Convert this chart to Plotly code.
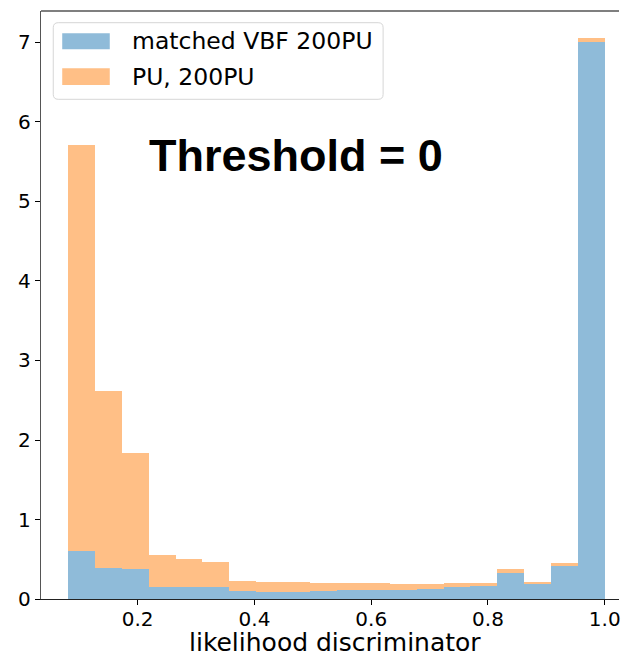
import plotly.graph_objects as go

# ---- data ----
bin_edges = [0.081, 0.127, 0.173, 0.219, 0.265, 0.311, 0.357, 0.403, 0.449, 0.495,
             0.541, 0.586, 0.632, 0.678, 0.724, 0.770, 0.816, 0.862, 0.908, 0.954, 1.000]
vbf_heights = [0.600, 0.386, 0.373, 0.147, 0.147, 0.155, 0.096, 0.092, 0.092, 0.105,
               0.117, 0.117, 0.117, 0.130, 0.151, 0.164, 0.323, 0.189, 0.419, 7.000]
pu_heights = [5.110, 2.234, 1.463, 0.406, 0.356, 0.310, 0.130, 0.126, 0.122, 0.096,
              0.084, 0.083, 0.072, 0.059, 0.050, 0.033, 0.058, 0.021, 0.030, 0.057]
series_names = ["matched VBF 200PU", "PU, 200PU"]
x_ticks = [0.2, 0.4, 0.6, 0.8, 1.0]
x_tick_labels = ["0.2", "0.4", "0.6", "0.8", "1.0"]
y_ticks = [0, 1, 2, 3, 4, 5, 6, 7]
y_tick_labels = ["0", "1", "2", "3", "4", "5", "6", "7"]
x_label = "likelihood discriminator"
annotation_text = "Threshold = 0"

BLUE = "#8fbbd9"
ORANGE = "#ffbf86"

centers = [(a + b) / 2 for a, b in zip(bin_edges[:-1], bin_edges[1:])]
widths = [b - a for a, b in zip(bin_edges[:-1], bin_edges[1:])]

W, H = 621, 656
L, R, T, B = 41, 0, 11, 57
PW = W - L - R
PH = H - T - B


def px(x):
    return (x - L) / PW


def py(y):
    return (H - B - y) / PH


fig = go.Figure()
fig.add_trace(go.Bar(x=centers, y=vbf_heights, width=widths, name=series_names[0],
                     marker=dict(color=BLUE, line=dict(width=0)), showlegend=False))
fig.add_trace(go.Bar(x=centers, y=pu_heights, width=widths, name=series_names[1],
                     marker=dict(color=ORANGE, line=dict(width=0)), showlegend=False))

tickfont = dict(family="DejaVu Sans", size=20, color="black")

fig.update_layout(
    width=W, height=H,
    margin=dict(l=L, r=R, t=T, b=B, pad=0),
    barmode="stack", bargap=0,
    paper_bgcolor="white", plot_bgcolor="white",
    xaxis=dict(range=[0.0344, 1.0244], tickvals=x_ticks, ticktext=x_tick_labels,
               ticks="outside", ticklen=5, tickwidth=1, tickcolor="black",
               showline=True, linecolor="#222", linewidth=1.3, mirror=False,
               ticklabeloverflow="allow", ticklabelstandoff=-3,
               showgrid=False, zeroline=False, tickfont=tickfont),
    yaxis=dict(range=[0, 7.396], tickvals=y_ticks, ticktext=y_tick_labels,
               ticks="outside", ticklen=5, tickwidth=1, tickcolor="black",
               showline=True, linecolor="#555", linewidth=1.3, mirror=False,
               showgrid=False, zeroline=False, tickfont=tickfont),
)

# top spine
fig.add_shape(type="line", xref="paper", yref="paper", x0=0, x1=1, y0=1, y1=1,
              line=dict(color="#555", width=1.3))
# mask at the cropped right edge (reference shows no right spine)
fig.add_shape(type="rect", xref="paper", yref="paper", x0=px(618.5), x1=1.02,
              y0=0.0015, y1=0.997, line=dict(width=0), fillcolor="white", layer="above")

# x label, centred on the full (cropped) matplotlib axes
fig.add_annotation(x=px(336), y=py(642), xref="paper", yref="paper",
                   text=x_label, showarrow=False, xanchor="center", yanchor="middle",
                   font=dict(family="DejaVu Sans", size=25, color="black"))

# Threshold text
fig.add_annotation(x=px(296.7), y=py(155), xref="paper", yref="paper",
                   text="<b>" + annotation_text + "</b>", showarrow=False,
                   xanchor="center", yanchor="middle",
                   font=dict(family="Liberation Sans", size=45, color="black"))

# custom legend (matplotlib style)
x0, x1, y0, y1, r = 53.3, 384.3, 22.7, 99.3, 5
path = (f"M {px(x0 + r)},{py(y0)} L {px(x1 - r)},{py(y0)} "
        f"Q {px(x1)},{py(y0)} {px(x1)},{py(y0 + r)} "
        f"L {px(x1)},{py(y1 - r)} Q {px(x1)},{py(y1)} {px(x1 - r)},{py(y1)} "
        f"L {px(x0 + r)},{py(y1)} Q {px(x0)},{py(y1)} {px(x0)},{py(y1 - r)} "
        f"L {px(x0)},{py(y0 + r)} Q {px(x0)},{py(y0)} {px(x0 + r)},{py(y0)} Z")
fig.add_shape(type="path", path=path, xref="paper", yref="paper",
              line=dict(color="#d6d6d6", width=1), fillcolor="rgba(255,255,255,0.8)")

legend_rows = [(33.3, 49.3, BLUE), (68.3, 85.0, ORANGE)]
for (ya, yb, col), name in zip(legend_rows, series_names):
    fig.add_shape(type="rect", xref="paper", yref="paper",
                  x0=px(62.3), x1=px(110), y0=py(yb), y1=py(ya),
                  line=dict(width=0), fillcolor=col)
    fig.add_annotation(x=px(130), y=py((ya + yb) / 2 + 0.2), xref="paper", yref="paper",
                       text=name, showarrow=False, xanchor="left", yanchor="middle",
                       font=dict(family="DejaVu Sans", size=23.5, color="black"))

fig.write_html("out.html")
